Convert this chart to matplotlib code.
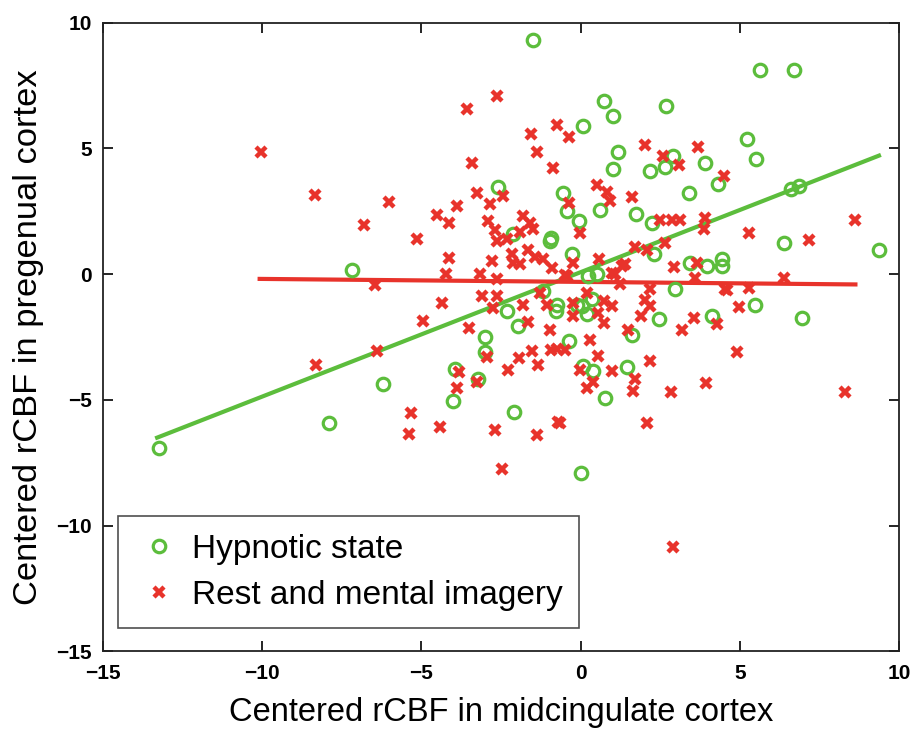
import matplotlib
matplotlib.use('Agg')
import matplotlib.pyplot as plt
import numpy as np

# --- data ---
hyp_x = [-13.25, -7.18, -7.9, -6.2, -3.95, -4.0, -3.22, -3.0, -3.0, -2.58,
         -2.08, -1.96, -2.3, -1.17, -0.78, 2.97, 2.45, 4.14, 1.61, -0.38,
         0.09, 0.4, 1.46, 0.77, 0.19, 0.37, -0.12, 0.02, -1.48, 5.64,
         6.69, 0.72, 1.03, 2.68, 0.09, 5.23, 5.52, 1.16, 1.01, 2.19,
         2.64, 2.9, 3.92, 4.3, 3.39, 6.6, 6.85, -0.54, -0.43, -0.04,
         0.61, 1.75, 2.24, -0.96, -0.92, -2.11, -0.28, 6.38, 9.37, 2.29,
         3.44, 3.97, 4.44, 4.44, 5.49, 6.96, 0.51, 0.24, -0.75, 0.04]
hyp_y = [-6.9, 0.15, -5.9, -4.36, -3.78, -5.03, -4.18, -2.5, -3.1, 3.45,
         -5.47, -2.06, -1.45, -0.68, -1.48, -0.61, -1.8, -1.68, -2.42, -2.64,
         -3.67, -3.87, -3.69, -4.94, -1.57, -0.98, -1.21, -7.89, 9.3, 8.1,
         8.1, 6.9, 6.3, 6.68, 5.87, 5.38, 4.58, 4.84, 4.18, 4.09,
         4.24, 4.71, 4.4, 3.58, 3.22, 3.4, 3.5, 3.21, 2.51, 2.12,
         2.54, 2.38, 2.05, 1.3, 1.45, 1.58, 0.79, 1.25, 0.96, 0.79,
         0.45, 0.32, 0.32, 0.59, -1.21, -1.74, 0.0, -0.08, -1.21, -1.28]

rest_x = [-2.64, -3.58, -10.05, -3.42, -8.35, -6.02, -3.26, -2.85, -3.89, -6.8,
          -4.5, -4.13, -2.9, -2.69, -2.62, -5.15, -4.13, -2.79, -4.23, -3.16,
          -2.64, -6.46, -3.11, -2.64, -4.36, -4.94, -3.5, -6.41, -2.74, -8.32,
          -3.81, -3.89, -3.26, -2.93, -5.34, -5.38, -4.42, -2.69, -2.48, -1.8,
          -1.64, -1.06, -1.27, -0.96, -0.94, -0.7, -2.27, -1.92, -1.53, -1.33,
          -1.36, 2.19, 3.6, 4.54, 0.19, -0.23, 0.72, 0.98, 2.03, 2.19,
          -0.23, 0.56, 0.72, 1.89, 3.55, 3.18, 4.28, 1.5, 0.3, -0.75,
          -0.49, 0.56, 2.19, -0.02, 0.98, 0.4, 1.71, 1.66, 0.21, 2.84,
          3.95, -0.64, 2.08, 4.91, 8.3, 2.9, -1.57, -1.38, -0.75, -0.38,
          -0.86, 2.03, 3.7, 2.58, 3.08, 4.51, 0.51, 0.82, 0.93, 1.61,
          -0.38, -2.43, -1.8, -1.59, -1.48, -1.9, -2.32, -0.02, 2.48, 2.87,
          3.13, 3.92, 3.86, 5.28, 7.16, 8.63, 2.66, 1.71, 2.08, 0.59,
          1.3, 0.98, 2.92, 3.65, 6.38, 5.28, 4.6, 1.24, -0.43, 4.96,
          -2.16, -2.11, -1.9, -1.64, -1.43, -1.17, -0.91, -0.23, 1.08, 1.4,
          -0.49]
rest_y = [7.07, 6.55, 4.87, 4.4, 3.15, 2.85, 3.22, 2.78, 2.71, 1.96,
          2.36, 2.05, 2.12, 1.74, 1.32, 1.38, 0.65, 0.52, 0.01, 0.0,
          -0.21, -0.45, -0.88, -0.88, -1.15, -1.85, -2.14, -3.07, -1.34, -3.6,
          -3.9, -4.51, -4.27, -3.31, -5.54, -6.36, -6.07, -6.2, -7.75, -1.21,
          -1.9, -1.21, -0.75, -2.21, -3.0, -5.87, -3.83, -3.34, -3.07, -3.63,
          -6.4, -0.61, -0.15, -0.61, -0.75, -1.15, -1.08, -1.28, -1.01, -1.28,
          -1.68, -1.54, -1.94, -1.68, -1.74, -2.21, -1.98, -2.21, -2.61, -2.97,
          -3.0, -3.27, -3.45, -3.8, -3.85, -4.27, -4.16, -4.64, -4.54, -4.7,
          -4.34, -5.9, -5.9, -3.1, -4.7, -10.86, 5.58, 4.84, 5.91, 5.44,
          4.2, 5.15, 5.07, 4.71, 4.35, 3.91, 3.55, 3.25, 2.91, 3.05,
          2.81, 3.11, 2.32, 2.05, 1.78, 1.69, 1.38, 1.65, 2.15, 2.15,
          2.15, 2.25, 1.78, 1.65, 1.35, 2.14, 1.25, 1.08, 0.95, 0.59,
          0.32, 0.05, 0.28, 0.45, -0.15, -0.55, -0.65, -0.41, -0.08, -1.32,
          0.79, 0.45, 0.39, 0.95, 0.68, 0.59, 0.25, 0.45, 0.0, 0.39,
          -0.05]

# regression lines (end points)
hyp_fit_x = [-13.3, 9.37]
hyp_fit_y = [-6.5, 4.71]
rest_fit_x = [-10.08, 8.63]
rest_fit_y = [-0.19, -0.41]

ticks = [-15, -10, -5, 0, 5, 10]
tick_labels = ['\u221215', '\u221210', '\u22125', '0', '5', '10']

GREEN = '#5cbd3c'
RED = '#e8332b'

plt.rcParams['font.family'] = ['Liberation Sans', 'DejaVu Sans']

fig = plt.figure(figsize=(9.13, 7.34), dpi=100)
ax = fig.add_axes([0.1128, 0.1124, 0.8719, 0.8569])

ax.plot(hyp_fit_x, hyp_fit_y, color=GREEN, linewidth=3, zorder=2)
ax.plot(rest_fit_x, rest_fit_y, color=RED, linewidth=3, zorder=2)

ax.plot(hyp_x, hyp_y, linestyle='none', marker='o', markersize=9,
        markerfacecolor='none', markeredgecolor=GREEN, markeredgewidth=2.3,
        label='Hypnotic state', zorder=3)
ax.plot(rest_x, rest_y, linestyle='none', marker='x', markersize=7.5,
        markeredgecolor=RED, markeredgewidth=3.2, label='Rest and mental imagery',
        zorder=3)

ax.set_xlim(-15, 10)
ax.set_ylim(-15, 10)
ax.set_xticks(ticks)
ax.set_yticks(ticks)
ax.set_xticklabels(tick_labels)
ax.set_yticklabels(tick_labels)
ax.tick_params(direction='in', top=True, right=True, length=7, width=1.2,
               labelsize=15)
ax.tick_params(axis='x', pad=9)
ax.tick_params(axis='y', pad=8)
for lab in ax.get_xticklabels() + ax.get_yticklabels():
    lab.set_fontweight('bold')
for sp in ax.spines.values():
    sp.set_linewidth(1.3)
    sp.set_color('#222222')

ax.set_xlabel('Centered rCBF in midcingulate cortex', fontsize=23.5, labelpad=10)
ax.set_ylabel('Centered rCBF in pregenual cortex', fontsize=24.8, labelpad=9)

# legend box sized to the original (lower left, wide frame)
leg = ax.legend(loc='lower left', bbox_to_anchor=(0.019, 0.037, 0.579, 0.177),
                mode='expand', borderaxespad=0, fontsize=24, frameon=True,
                fancybox=False, edgecolor='#222222', handletextpad=0.3,
                labelspacing=0.46, borderpad=0.52, handlelength=1.4)
leg.get_frame().set_linewidth(1.2)

fig.savefig('out.png', dpi=100)
